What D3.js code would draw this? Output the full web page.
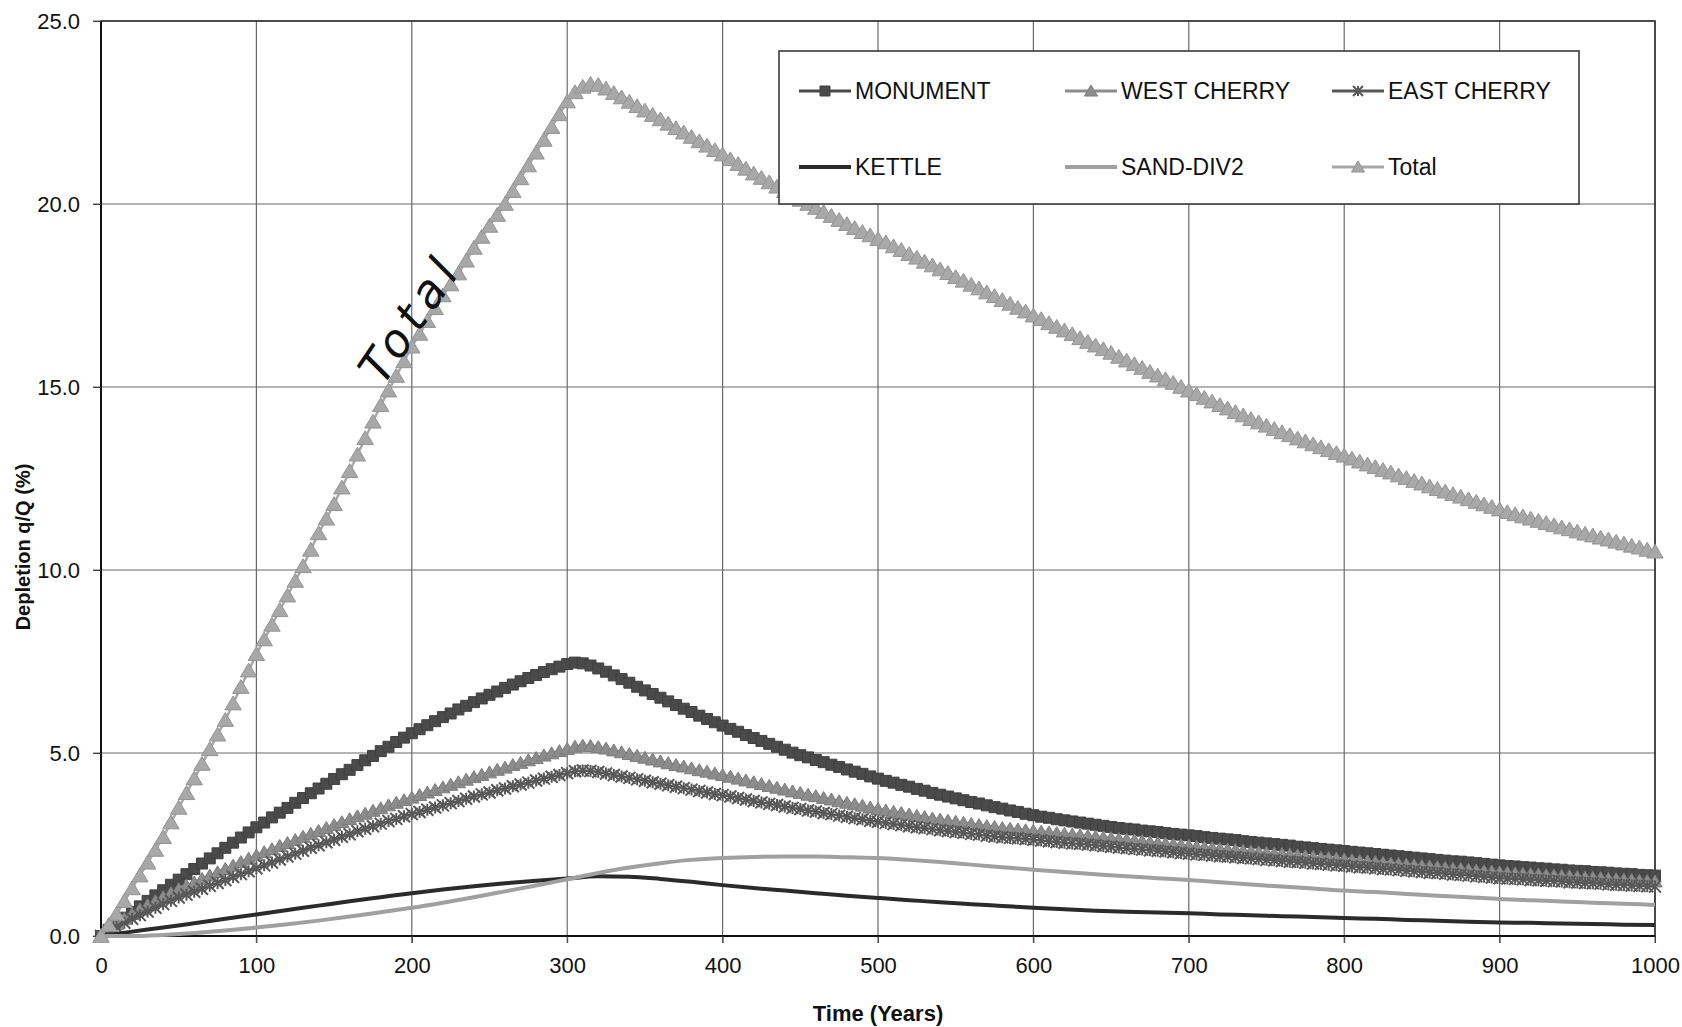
<!DOCTYPE html>
<html>
<head>
<meta charset="utf-8">
<script src="https://cdn.jsdelivr.net/npm/d3@7"></script>
<style>
body { margin: 0; background: #fff; }
svg text { font-family: 'Liberation Sans', Arial, sans-serif; fill: #111; }
</style>
</head>
<body>
<svg id="canvas" width="1682" height="1027"></svg>
<script>
// time steps: marker series every 5 years, plain lines every 20 years
let years = d3.range(0, 1005, 5)
let lineYears = d3.range(0, 1020, 20)

let monument = [
  0,0.17,0.34,0.5,0.66,0.81,0.96,1.11,1.25,1.4,1.54,1.69,1.83,1.98,2.12,2.26,2.41,2.55,2.69,2.83,
  2.97,3.1,3.24,3.37,3.5,3.64,3.77,3.9,4.03,4.16,4.29,4.42,4.54,4.67,4.8,4.92,5.05,5.17,5.3,5.42,
  5.54,5.65,5.76,5.87,5.98,6.08,6.19,6.29,6.39,6.49,6.59,6.68,6.78,6.87,6.96,7.05,7.13,7.21,7.29,7.36,
  7.43,7.47,7.45,7.39,7.31,7.22,7.12,7.02,6.92,6.81,6.71,6.61,6.51,6.41,6.31,6.21,6.12,6.02,5.93,5.84,
  5.75,5.66,5.58,5.49,5.41,5.33,5.25,5.17,5.09,5.01,4.94,4.88,4.81,4.75,4.68,4.62,4.55,4.49,4.43,4.36,
  4.3,4.24,4.19,4.13,4.08,4.02,3.97,3.91,3.86,3.81,3.76,3.71,3.66,3.62,3.57,3.52,3.48,3.43,3.39,3.34,
  3.3,3.26,3.23,3.19,3.16,3.13,3.1,3.07,3.04,3.01,2.98,2.95,2.93,2.91,2.88,2.86,2.84,2.81,2.79,2.77,
  2.75,2.73,2.7,2.68,2.66,2.64,2.62,2.59,2.57,2.55,2.53,2.51,2.49,2.47,2.44,2.42,2.4,2.38,2.36,2.34,
  2.32,2.3,2.28,2.26,2.24,2.22,2.2,2.18,2.16,2.14,2.12,2.1,2.08,2.06,2.04,2.03,2.01,1.99,1.97,1.95,
  1.93,1.91,1.9,1.88,1.87,1.85,1.84,1.82,1.81,1.79,1.78,1.77,1.75,1.74,1.73,1.71,1.7,1.69,1.67,1.66,
  1.65]

let westCherry = [
  0,0.17,0.33,0.47,0.6,0.72,0.84,0.95,1.06,1.17,1.28,1.37,1.46,1.56,1.65,1.74,1.83,1.92,2.02,2.11,
  2.2,2.29,2.37,2.46,2.54,2.62,2.71,2.79,2.87,2.95,3.03,3.11,3.19,3.27,3.34,3.42,3.49,3.57,3.64,3.71,
  3.78,3.85,3.92,3.99,4.06,4.13,4.2,4.27,4.34,4.4,4.47,4.54,4.6,4.67,4.73,4.8,4.86,4.93,4.99,5.05,
  5.11,5.17,5.2,5.19,5.16,5.12,5.07,5.02,4.97,4.92,4.87,4.82,4.77,4.72,4.67,4.63,4.58,4.53,4.49,4.44,
  4.4,4.35,4.3,4.25,4.2,4.15,4.1,4.05,4.0,3.95,3.91,3.86,3.82,3.77,3.73,3.68,3.64,3.6,3.56,3.51,
  3.47,3.43,3.39,3.36,3.32,3.28,3.25,3.21,3.18,3.15,3.12,3.09,3.06,3.03,3.0,2.98,2.95,2.93,2.91,2.89,
  2.87,2.85,2.83,2.81,2.79,2.77,2.75,2.73,2.71,2.69,2.67,2.65,2.63,2.61,2.59,2.56,2.54,2.52,2.5,2.48,
  2.46,2.44,2.42,2.4,2.38,2.36,2.35,2.33,2.31,2.29,2.27,2.25,2.24,2.22,2.2,2.18,2.16,2.14,2.13,2.11,
  2.09,2.07,2.05,2.04,2.02,2.0,1.98,1.97,1.95,1.93,1.91,1.9,1.88,1.86,1.84,1.83,1.81,1.79,1.77,1.76,
  1.74,1.73,1.71,1.7,1.69,1.68,1.66,1.65,1.64,1.63,1.61,1.6,1.59,1.58,1.56,1.55,1.54,1.53,1.51,1.5,
  1.49]

let eastCherry = [
  0,0.12,0.24,0.36,0.47,0.57,0.67,0.77,0.87,0.96,1.05,1.13,1.21,1.29,1.37,1.45,1.53,1.61,1.69,1.77,
  1.85,1.93,2.01,2.09,2.17,2.25,2.33,2.41,2.48,2.56,2.63,2.71,2.78,2.86,2.93,3.0,3.07,3.14,3.2,3.27,
  3.33,3.39,3.45,3.51,3.57,3.63,3.69,3.75,3.81,3.87,3.92,3.98,4.03,4.09,4.14,4.19,4.25,4.3,4.35,4.4,
  4.45,4.5,4.52,4.51,4.48,4.44,4.4,4.36,4.32,4.28,4.24,4.2,4.16,4.12,4.08,4.04,4.0,3.96,3.92,3.88,
  3.85,3.81,3.77,3.73,3.69,3.65,3.61,3.58,3.54,3.5,3.47,3.43,3.4,3.36,3.33,3.29,3.26,3.22,3.19,3.15,
  3.12,3.09,3.06,3.03,3.0,2.97,2.95,2.92,2.89,2.87,2.84,2.82,2.79,2.77,2.74,2.72,2.7,2.68,2.67,2.65,
  2.63,2.61,2.59,2.57,2.55,2.53,2.52,2.5,2.48,2.46,2.44,2.42,2.4,2.38,2.36,2.34,2.33,2.31,2.29,2.27,
  2.25,2.23,2.22,2.2,2.18,2.17,2.15,2.13,2.12,2.1,2.08,2.07,2.05,2.03,2.02,2.0,1.98,1.97,1.95,1.93,
  1.92,1.9,1.88,1.87,1.85,1.83,1.82,1.8,1.78,1.77,1.75,1.73,1.72,1.7,1.68,1.67,1.65,1.63,1.62,1.6,
  1.58,1.57,1.56,1.55,1.53,1.52,1.51,1.5,1.49,1.47,1.46,1.45,1.44,1.43,1.41,1.4,1.39,1.38,1.37,1.36,
  1.35]

let total = [
  0,0.3,0.6,0.95,1.3,1.65,2.0,2.35,2.7,3.1,3.5,3.9,4.3,4.7,5.1,5.5,5.9,6.35,6.8,7.25,
  7.7,8.1,8.5,8.9,9.3,9.7,10.1,10.55,11.0,11.4,11.8,12.25,12.7,13.15,13.6,14.05,14.5,14.9,15.3,15.7,
  16.1,16.45,16.8,17.15,17.5,17.8,18.1,18.45,18.8,19.1,19.4,19.7,20.0,20.35,20.7,21.05,21.4,21.75,22.1,22.45,
  22.8,23.05,23.2,23.28,23.25,23.15,23.03,22.91,22.79,22.67,22.55,22.43,22.31,22.19,22.07,21.95,21.83,21.71,21.59,21.47,
  21.35,21.22,21.09,20.96,20.83,20.71,20.59,20.47,20.35,20.23,20.11,20.0,19.89,19.78,19.67,19.56,19.45,19.34,19.23,19.14,
  19.04,18.95,18.84,18.74,18.63,18.53,18.42,18.32,18.21,18.11,18.0,17.9,17.79,17.69,17.58,17.48,17.37,17.27,17.16,17.06,
  16.95,16.85,16.74,16.64,16.54,16.44,16.33,16.23,16.13,16.03,15.93,15.82,15.72,15.62,15.52,15.41,15.31,15.21,15.11,15.0,
  14.9,14.8,14.7,14.6,14.5,14.41,14.31,14.22,14.12,14.03,13.94,13.85,13.76,13.68,13.59,13.51,13.43,13.35,13.27,13.19,
  13.12,13.04,12.96,12.88,12.81,12.73,12.66,12.58,12.51,12.43,12.36,12.28,12.21,12.14,12.07,12.0,11.93,11.86,11.79,11.72,
  11.65,11.58,11.52,11.46,11.4,11.34,11.28,11.22,11.16,11.11,11.05,10.99,10.94,10.88,10.83,10.77,10.72,10.66,10.61,10.55,
  10.5]

let kettle = [
  0,0.12,0.23,0.35,0.47,0.59,0.71,0.83,0.95,1.06,
  1.17,1.27,1.36,1.44,1.51,1.57,1.63,1.62,1.56,1.48,
  1.39,1.31,1.24,1.17,1.1,1.04,0.98,0.92,0.87,0.82,
  0.77,0.73,0.69,0.66,0.64,0.62,0.59,0.57,0.54,0.52,
  0.49,0.47,0.44,0.42,0.39,0.37,0.36,0.34,0.33,0.31,
  0.3]

let sandDiv2 = [
  0,0,0.03,0.08,0.15,0.23,0.32,0.42,0.53,0.65,
  0.77,0.91,1.06,1.22,1.38,1.55,1.72,1.87,1.99,2.08,
  2.13,2.16,2.17,2.17,2.15,2.13,2.08,2.02,1.95,1.88,
  1.81,1.75,1.69,1.63,1.58,1.53,1.47,1.41,1.35,1.3,
  1.24,1.2,1.15,1.1,1.06,1.01,0.98,0.94,0.91,0.88,
  0.85]

let xTicks = [0, 100, 200, 300, 400, 500, 600, 700, 800, 900, 1000]
let yTicks = [0, 5, 10, 15, 20, 25]

let seriesNames = ['MONUMENT', 'WEST CHERRY', 'EAST CHERRY', 'KETTLE', 'SAND-DIV2', 'Total']

let canvas = d3.select('#canvas')

let plotLeft = 101, plotRight = 1655, plotTop = 21, plotBottom = 936

let x = d3.scaleLinear().domain([0, 1000]).range([plotLeft, plotRight])
let y = d3.scaleLinear().domain([0, 25]).range([plotBottom, plotTop])

let series = [
  { name: seriesNames[0], xs: years, values: monument, color: '#4a4a4a', width: 2.5, marker: 'square', size: 11 },
  { name: seriesNames[1], xs: years, values: westCherry, color: '#8c8c8c', width: 2.5, marker: 'triangle', size: 13 },
  { name: seriesNames[2], xs: years, values: eastCherry, color: '#585858', width: 2.5, marker: 'star', size: 12 },
  { name: seriesNames[3], xs: lineYears, values: kettle, color: '#2b2b2b', width: 4, marker: null },
  { name: seriesNames[4], xs: lineYears, values: sandDiv2, color: '#a0a0a0', width: 4, marker: null },
  { name: seriesNames[5], xs: years, values: total, color: '#a8a8a8', width: 2.5, marker: 'triangle', size: 15 }
]

let markerPath = (type, s) => {
  if (type === 'square') return `M${-s/2},${-s/2}h${s}v${s}h${-s}Z`
  if (type === 'triangle') return `M0,${-s*0.5}L${s*0.55},${s*0.42}L${-s*0.55},${s*0.42}Z`
  return `M${-s/2},${-s/2}L${s/2},${s/2}M${s/2},${-s/2}L${-s/2},${s/2}M0,${-s/2}V${s/2}`
}

let drawMarker = (g, type, s, color) => {
  let p = g.append('path').attr('d', markerPath(type, s))
  if (type === 'star') {
    p.attr('fill', 'none').attr('stroke', color).attr('stroke-width', 2)
  } else {
    p.attr('fill', color).attr('stroke', d3.color(color).darker(0.35)).attr('stroke-width', 1)
  }
}

// grid
let grid = canvas.append('g')
grid.selectAll('.vgrid')
  .data(xTicks)
  .enter()
  .append('line')
  .attr('x1', d => x(d)).attr('x2', d => x(d))
  .attr('y1', plotTop).attr('y2', plotBottom + 7)
  .attr('stroke', '#6a6a6a').attr('stroke-width', 1.2)
grid.selectAll('.hgrid')
  .data(yTicks)
  .enter()
  .append('line')
  .attr('x1', plotLeft - 8).attr('x2', plotRight)
  .attr('y1', d => y(d)).attr('y2', d => y(d))
  .attr('stroke', '#6a6a6a').attr('stroke-width', 1.2)

// plot frame
canvas.append('rect')
  .attr('x', plotLeft).attr('y', plotTop)
  .attr('width', plotRight - plotLeft).attr('height', plotBottom - plotTop)
  .attr('fill', 'none').attr('stroke', '#333').attr('stroke-width', 1.6)
canvas.append('line')
  .attr('x1', plotLeft).attr('x2', plotRight).attr('y1', plotBottom).attr('y2', plotBottom)
  .attr('stroke', '#111').attr('stroke-width', 2.2)
canvas.append('line')
  .attr('x1', plotLeft).attr('x2', plotLeft).attr('y1', plotTop).attr('y2', plotBottom)
  .attr('stroke', '#111').attr('stroke-width', 2)

// axes (labels only, lines come from grid)
let xAxis = canvas.append('g')
  .attr('transform', `translate(0,${plotBottom})`)
  .call(d3.axisBottom(x).tickValues(xTicks).tickFormat(d3.format('d')).tickSize(7).tickPadding(14))
let yAxis = canvas.append('g')
  .attr('transform', `translate(${plotLeft},0)`)
  .call(d3.axisLeft(y).tickValues(yTicks).tickFormat(d3.format('.1f')).tickSize(8).tickPadding(13))
canvas.selectAll('.domain').remove()
canvas.selectAll('.tick line').attr('stroke', '#444')
canvas.selectAll('.tick text').style('font-size', '22px').attr('fill', '#111')

// series
series.forEach(s => {
  let pts = s.xs.map((t, i) => [t, s.values[i]])
  let line = d3.line()
    .x(d => x(d[0]))
    .y(d => y(d[1]))
  if (!s.marker) line.curve(d3.curveMonotoneX)
  canvas.append('path')
    .datum(pts)
    .attr('d', line)
    .attr('fill', 'none')
    .attr('stroke', s.color)
    .attr('stroke-width', s.width)
    .attr('stroke-linejoin', 'round')
  if (s.marker) {
    canvas.append('g')
      .selectAll('g')
      .data(pts)
      .enter()
      .append('g')
      .attr('transform', d => `translate(${x(d[0])},${y(d[1])})`)
      .each(function () { drawMarker(d3.select(this), s.marker, s.size, s.color) })
  }
})

// handwritten note
canvas.append('text')
  .attr('transform', 'translate(410,318) rotate(-56)')
  .attr('text-anchor', 'middle')
  .attr('dy', '0.35em')
  .style('font-family', "'DejaVu Sans', sans-serif")
  .style('font-size', '46px')
  .style('font-style', 'italic')
  .style('letter-spacing', '7px')
  .attr('fill', '#151515')
  .text('Total')

// legend
let legend = canvas.append('g')
legend.append('rect')
  .attr('x', 779).attr('y', 51).attr('width', 800).attr('height', 153)
  .attr('fill', '#fff').attr('stroke', '#3a3a3a').attr('stroke-width', 1.6)

let legendCols = [799, 1065, 1332]
let legendRows = [91, 167]
series.forEach((s, i) => {
  let lx = legendCols[i % 3]
  let ly = legendRows[Math.floor(i / 3)]
  let g = legend.append('g').attr('transform', `translate(${lx},${ly})`)
  g.append('line')
    .attr('x1', 0).attr('x2', 52).attr('y1', 0).attr('y2', 0)
    .attr('stroke', s.color).attr('stroke-width', s.marker ? 3 : 4)
  if (s.marker) {
    let m = g.append('g').attr('transform', 'translate(26,0)')
    drawMarker(m, s.marker, s.marker === 'triangle' ? 12 : 10, s.color)
  }
  g.append('text')
    .attr('x', 56).attr('y', 0).attr('dy', '0.36em')
    .style('font-size', '23px')
    .text(s.name)
})

// axis titles
canvas.append('text')
  .attr('x', (plotLeft + plotRight) / 2).attr('y', 1013)
  .attr('text-anchor', 'middle').attr('dy', '0.35em')
  .style('font-size', '22px').style('font-weight', 'bold')
  .text('Time (Years)')
canvas.append('text')
  .attr('transform', 'translate(23,547) rotate(-90)')
  .attr('text-anchor', 'middle').attr('dy', '0.35em')
  .style('font-size', '20px').style('font-weight', 'bold')
  .text('Depletion q/Q (%)')
</script>
</body>
</html>
